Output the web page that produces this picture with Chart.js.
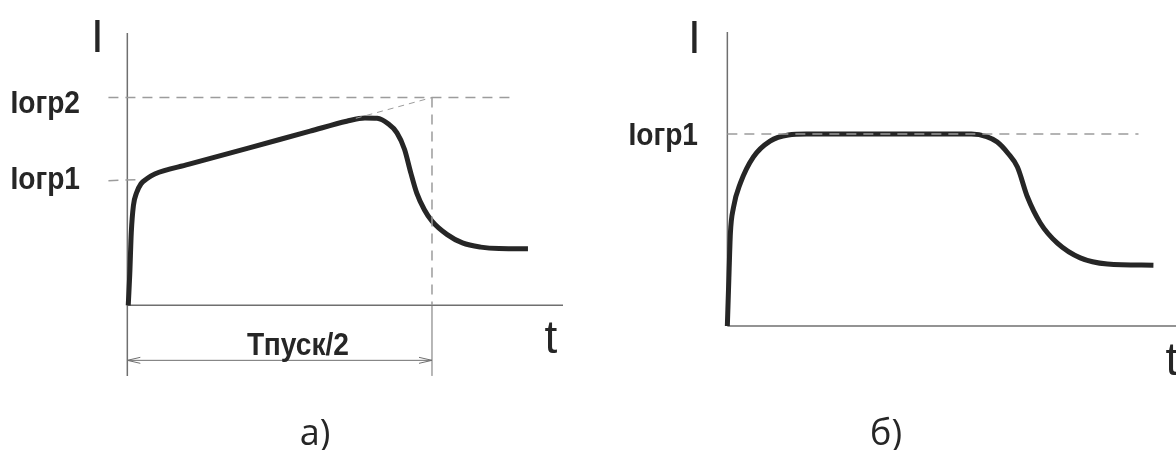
<!DOCTYPE html>
<html>
<head>
<meta charset="utf-8">
<script src="https://cdn.jsdelivr.net/npm/chart.js@4/dist/chart.umd.min.js"></script>
<style>
  html, body { margin: 0; padding: 0; background: #fff; }
  body { width: 1176px; height: 450px; position: relative; overflow: hidden; }
  .pane { position: absolute; top: 0; }
  #paneA { left: 0; width: 580px; height: 450px; }
  #paneB { left: 600px; width: 576px; height: 450px; }
</style>
</head>
<body>
<div class="pane" id="paneA"><canvas id="chartA" width="580" height="450"></canvas></div>
<div class="pane" id="paneB"><canvas id="chartB" width="576" height="450"></canvas></div>
<script>
// пусковой ток: а) с ограничением Iогр1 -> Iогр2 за Тпуск/2, б) с постоянным ограничением Iогр1
const I_LIM1 = 6;
const I_LIM2 = 10;
const T_HALF = 10;

const tA = [0.03, 0.08, 0.13, 0.2, 0.3, 0.45, 0.65, 0.9, 2, 4, 6, 7.2, 7.8, 8.2, 8.55, 8.85, 9.1, 9.3, 9.5, 9.75, 10.0, 10.5, 11, 11.6, 12.2, 13.15];
const iA = [0, 1.5, 3.5, 4.8, 5.4, 5.85, 6.1, 6.32, 6.78, 7.58, 8.38, 8.86, 9.02, 9.0, 8.75, 8.3, 7.5, 6.4, 5.4, 4.6, 4.05, 3.4, 3.0, 2.8, 2.73, 2.72];

const tB = [0, 0.05, 0.1, 0.2, 0.43, 0.85, 1.4, 2.0, 2.6, 8.0, 8.5, 8.85, 9.2, 9.51, 9.84, 10.26, 10.82, 11.57, 12.46, 13.97];
const iB = [0, 1.5, 2.9, 3.7, 4.47, 5.28, 5.78, 5.97, 6.0, 6.0, 5.92, 5.75, 5.4, 4.97, 4.03, 3.22, 2.59, 2.13, 1.94, 1.9];

const CURVE = '#262626';
const AXIS = '#6f6f6f';
const DASH = '#9c9c9c';
const LABEL_FONT = 'bold 32px "Liberation Sans", Arial, sans-serif';
const AXIS_FONT = '46px "Liberation Sans", Arial, sans-serif';
const CAPTION_FONT = '36px "Open Sans", "Noto Sans", sans-serif';

function pts(ts, is) {
    return ts.map((t, k) => ({ x: t, y: is[k] }));
}

function curve(data) {
    return { data: data, borderColor: CURVE, borderWidth: 5, cubicInterpolationMode: 'monotone', pointRadius: 0, fill: false, clip: false };
}

function guide(data, width, dash) {
    return { data: data, borderColor: DASH, borderWidth: width, borderDash: dash || [10, 7], pointRadius: 0, fill: false, tension: 0, clip: false };
}

function line(ctx, x1, y1, x2, y2, color, width) {
    ctx.beginPath();
    ctx.moveTo(x1, y1);
    ctx.lineTo(x2, y2);
    ctx.strokeStyle = color;
    ctx.lineWidth = width;
    ctx.setLineDash([]);
    ctx.stroke();
}

// squeeze < 1 сжимает надпись по ширине (узкий жирный шрифт подписей)
function text(ctx, s, x, y, font, align, squeeze) {
    const k = squeeze || 1;
    ctx.save();
    ctx.translate(x, y);
    ctx.scale(k, 1);
    ctx.font = font;
    ctx.fillStyle = '#262626';
    ctx.textAlign = align || 'center';
    ctx.textBaseline = 'alphabetic';
    ctx.fillText(s, 0, 0);
    ctx.restore();
}

function makeChart(id, datasets, xr, yr, padding, axes, labels) {
    const deco = {
        id: 'deco',
        beforeDatasetsDraw(chart) {
            const ctx = chart.ctx, xs = chart.scales.x, ys = chart.scales.y;
            ctx.save();
            // оси I и t
            line(ctx, xs.getPixelForValue(0), ys.getPixelForValue(axes.yTop), xs.getPixelForValue(0), ys.getPixelForValue(axes.yBottom), AXIS, 1.5);
            line(ctx, xs.getPixelForValue(0), ys.getPixelForValue(0), xs.getPixelForValue(axes.xEnd), ys.getPixelForValue(0), AXIS, 1.5);
            ctx.restore();
        },
        afterDraw(chart) {
            const ctx = chart.ctx, xs = chart.scales.x, ys = chart.scales.y;
            ctx.save();
            labels(ctx, xs, ys);
            ctx.restore();
        }
    };
    return new Chart(document.getElementById(id), {
        type: 'line',
        data: { datasets: datasets },
        options: {
            responsive: false,
            animation: false,
            events: [],
            layout: { padding: padding },
            plugins: { legend: { display: false }, tooltip: { enabled: false } },
            scales: {
                x: { type: 'linear', min: xr[0], max: xr[1], display: false },
                y: { type: 'linear', min: yr[0], max: yr[1], display: false }
            }
        },
        plugins: [deco]
    });
}

// а)
makeChart('chartA', [
    guide([{ x: -0.62, y: I_LIM2 }, { x: 12.72, y: I_LIM2 }], 1.5),
    guide([{ x: -0.62, y: I_LIM1 }, { x: 0.4, y: I_LIM1 + 0.05 }], 1.5),
    guide([{ x: 7.5, y: I_LIM1 + 0.4 * 7.5 }, { x: T_HALF, y: I_LIM2 }], 1, [6, 5]),
    guide([{ x: T_HALF, y: I_LIM2 }, { x: T_HALF, y: 0 }], 1.5),
    curve(pts(tA, iA))
], [-0.7, 14.3], [-3.5, 13.25], { left: 106, right: 17, top: 30, bottom: 72 },
{ yTop: 13.1, yBottom: -3.4, xEnd: 14.3 },
function (ctx, xs, ys) {
    const x0 = xs.getPixelForValue(0), xT = xs.getPixelForValue(T_HALF);
    const yDim = ys.getPixelForValue(-2.65);
    // выносная линия и размер Тпуск/2
    line(ctx, xT, ys.getPixelForValue(0), xT, ys.getPixelForValue(-3.4), AXIS, 1);
    line(ctx, x0, yDim, xT, yDim, AXIS, 1);
    line(ctx, x0, yDim, x0 + 13, yDim - 3, AXIS, 1);
    line(ctx, x0, yDim, x0 + 13, yDim + 3, AXIS, 1);
    line(ctx, xT, yDim, xT - 13, yDim - 3, AXIS, 1);
    line(ctx, xT, yDim, xT - 13, yDim + 3, AXIS, 1);
    text(ctx, 'Тпуск/2', 298, yDim - 5, LABEL_FONT, 'center', 0.88);
    text(ctx, 'Iогр2', 80, ys.getPixelForValue(I_LIM2) + 15, LABEL_FONT, 'right', 0.88);
    text(ctx, 'Iогр1', 80, ys.getPixelForValue(I_LIM1) + 8, LABEL_FONT, 'right', 0.88);
    text(ctx, 'I', x0 - 30, 52, AXIS_FONT);
    text(ctx, 't', 551, 353, AXIS_FONT);
    text(ctx, 'а)', 315, 445, CAPTION_FONT);
});

// б)
makeChart('chartB', [
    guide([{ x: 0, y: I_LIM1 }, { x: 13.48, y: I_LIM1 }], 1.5),
    curve(pts(tB, iB))
], [-0.7, 14.71], [-1, 9.25], { left: 106, right: 0, top: 30, bottom: 92 },
{ yTop: 9.19, yBottom: 0, xEnd: 14.71 },
function (ctx, xs, ys) {
    const x0 = xs.getPixelForValue(0);
    text(ctx, 'Iогр1', 98, ys.getPixelForValue(I_LIM1) + 11, LABEL_FONT, 'right', 0.88);
    text(ctx, 'I', x0 - 33, 53, AXIS_FONT);
    text(ctx, 't', 572, 375, AXIS_FONT);
    text(ctx, 'б)', 286, 445, CAPTION_FONT);
});
</script>
</body>
</html>
